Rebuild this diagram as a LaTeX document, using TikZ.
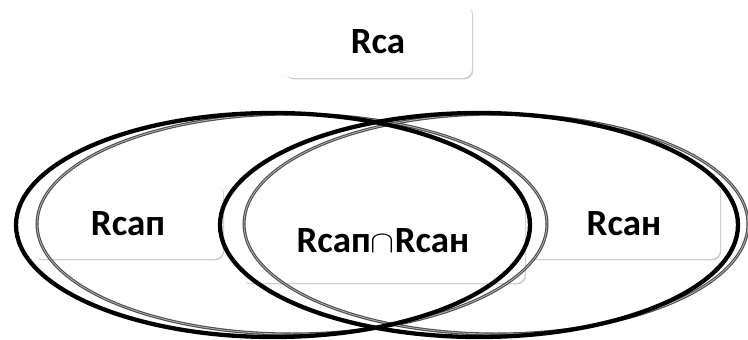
\documentclass[tikz,border=0pt]{standalone}
\usepackage{fontspec}
\setmainfont{Carlito}
\usetikzlibrary{shadows}
\newcommand{\setcap}{\scalebox{1.45}[1.25]{$\cap$}}
\begin{document}
\begin{tikzpicture}[x=1pt,y=-1pt,
  labelbox/.style={rounded corners=9pt, fill=white,
    general shadow={shadow xshift=1.2pt, shadow yshift=-1.4pt, fill=black!20}},
  labeltext/.style={font=\bfseries\fontsize{37}{42}\selectfont, inner sep=0pt},
  setring/.style={line width=4.3pt, draw=black},
  setecho/.style={line width=1.1pt, draw=black!70, double=black!30, double distance=0.8pt}]
\useasboundingbox (0,0) rectangle (748,340);
% label panels
\path[labelbox] (284,5) rectangle (472,78);
\path[labelbox] (33,184) rectangle (223,259);
\path[labelbox] (528,183) rectangle (720,259);
\path[labelbox] (241,195) rectangle (525,283);
% set outlines with offset echo lines
\draw[setecho] (292,224) ellipse [x radius=255, y radius=110];
\draw[setecho] (496,224) ellipse [x radius=252, y radius=110];
\draw[setring] (273,225) ellipse [x radius=257, y radius=112];
\draw[setring] (479,225) ellipse [x radius=259, y radius=112];
% labels
\node[labeltext] (top) at (378,42) {Rca};
\node[labeltext] (left) at (128,224) {Rcaп};
\node[labeltext] (right) at (624,224) {Rcaн};
\node[labeltext] (mid) at (383,241) {Rcaп\setcap Rcaн};
\end{tikzpicture}
\end{document}
